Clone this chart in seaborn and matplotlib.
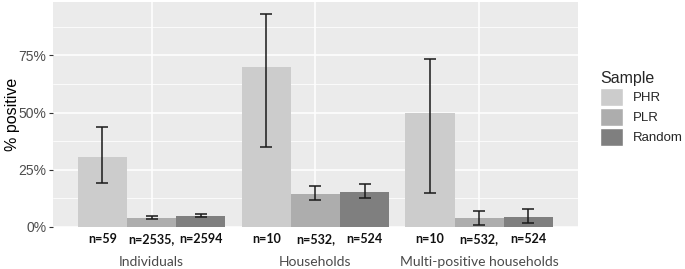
import seaborn as sns
import matplotlib.pyplot as plt
import matplotlib.patches as mpatches
import pandas as pd

# data
groups = ["Individuals", "Households", "Multi-positive households"]
samples = ["PHR", "PLR", "Random"]
pct = {
    "PHR":    [30.5, 70.0, 50.0],
    "PLR":    [4.0, 14.2, 3.8],
    "Random": [4.8, 15.2, 4.5],
}
lower = {
    "PHR":    [19.2, 34.9, 14.9],
    "PLR":    [3.5, 11.6, 1.0],
    "Random": [4.2, 12.6, 1.9],
}
upper = {
    "PHR":    [43.8, 93.2, 73.2],
    "PLR":    [4.8, 17.7, 7.1],
    "Random": [5.6, 18.7, 8.0],
}
n_labels = {
    "PHR":    ["n=59", "n=10", "n=10"],
    "PLR":    ["n=2535,", "n=532,", "n=532,"],
    "Random": ["n=2594", "n=524", "n=524"],
}
colors = {"PHR": "#cccccc", "PLR": "#adadad", "Random": "#7f7f7f"}

rows = []
for s in samples:
    for i, g in enumerate(groups):
        rows.append({"group": g, "Sample": s, "pct": pct[s][i] / 100,
                     "lo": lower[s][i] / 100, "hi": upper[s][i] / 100,
                     "n": n_labels[s][i]})
df = pd.DataFrame(rows)

sns.set_theme(style="darkgrid", rc={"axes.facecolor": "#ebebeb",
                                    "grid.color": "white"})
plt.rcParams["font.family"] = ["Liberation Sans", "DejaVu Sans"]
calibri_ish = ["Lato", "DejaVu Sans"]

fig = plt.figure(figsize=(6.85, 2.69), dpi=100)
ax = fig.add_axes([53.3 / 685, 1 - 227 / 269, (577.5 - 53.3) / 685, (227 - 1.5) / 269])

sns.barplot(data=df, x="group", y="pct", hue="Sample", order=groups,
            hue_order=samples, palette=colors, width=0.9, gap=0,
            errorbar=None, saturation=1, linewidth=0, ax=ax, legend=False,
            zorder=2)

# error bars + n labels under each bar
for s, cont in zip(samples, ax.containers):
    for bar, g in zip(cont, groups):
        bar.set_edgecolor("none")
        r = df[(df.Sample == s) & (df.group == g)].iloc[0]
        xc = bar.get_x() + bar.get_width() / 2
        ax.errorbar(xc, r.pct, yerr=[[r.pct - r.lo], [r.hi - r.pct]],
                    fmt="none", ecolor="#1a1a1a", elinewidth=1.1,
                    capsize=4.3, capthick=1.1, zorder=3)
        ax.text(xc, -0.028, r.n, ha="center", va="top", fontsize=9,
                fontweight="bold", family=calibri_ish, color="#111111",
                clip_on=False)

ax.set_xlim(-0.6, 2.6)
ax.set_ylim(0, 0.985)
ax.set_yticks([0, 0.25, 0.5, 0.75])
ax.set_yticklabels(["0%", "25%", "50%", "75%"])
ax.set_yticks([0.125, 0.375, 0.625, 0.875], minor=True)
ax.grid(which="major", color="white", linewidth=1.1)
ax.grid(which="minor", axis="y", color="white", linewidth=0.55)
ax.set_xticks(range(3))
ax.set_xticklabels(groups, family=calibri_ish, fontsize=10, color="#4a4a4a")
ax.tick_params(axis="x", length=0, pad=21)
ax.tick_params(axis="y", which="major", length=3, width=0.8, color="#333333",
               labelsize=10, labelcolor="#4d4d4d", pad=2, left=True)
ax.tick_params(axis="y", which="minor", length=0)
ax.set_xlabel("")
ax.set_ylabel("% positive", fontsize=11.5, color="black")
ax.yaxis.set_label_coords(-0.064, 0.5)
for sp in ax.spines.values():
    sp.set_visible(False)

# legend
handles = [mpatches.Patch(facecolor=colors[s], edgecolor="white", label=s)
           for s in samples]
leg = fig.legend(handles=handles, title="Sample", loc="upper left",
                 bbox_to_anchor=(595 / 685, 1 - 66 / 269), frameon=False,
                 fontsize=9.5, title_fontsize=11.5, handlelength=1.75,
                 handleheight=1.75, labelspacing=0.12, handletextpad=0.7,
                 borderaxespad=0)
leg._legend_box.align = "left"

fig.savefig("out.png", dpi=100)
